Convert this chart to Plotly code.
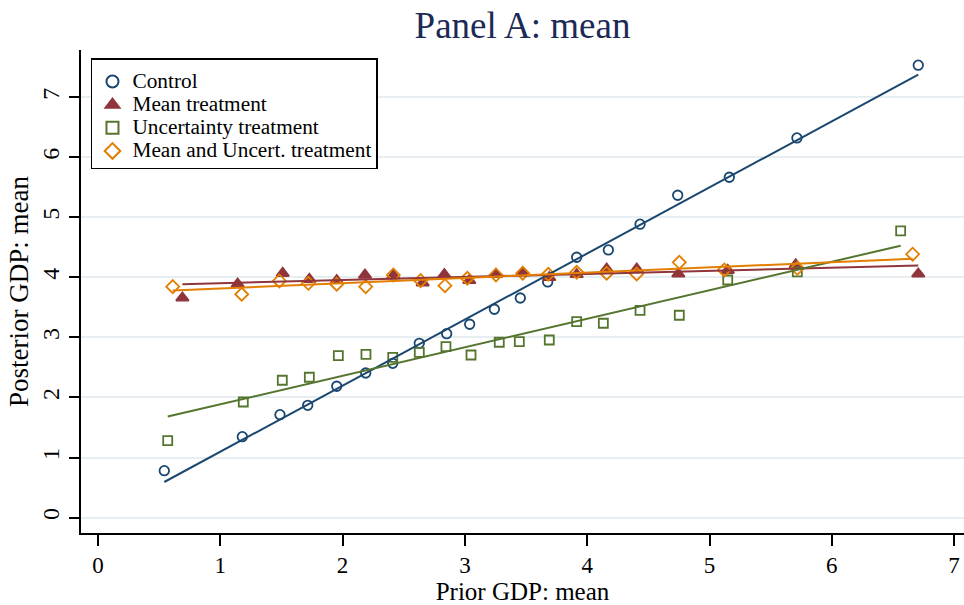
import numpy as np
import plotly.graph_objects as go

# ---- data ----
control_x = [0.542, 1.180, 1.488, 1.715, 1.952, 2.189, 2.410, 2.627, 2.851, 3.039,
             3.241, 3.453, 3.677, 3.914, 4.173, 4.432, 4.740, 5.162, 5.715, 6.707]
control_y = [0.78, 1.347, 1.713, 1.870, 2.187, 2.408, 2.570, 2.903, 3.063, 3.220,
             3.470, 3.658, 3.925, 4.337, 4.458, 4.887, 5.370, 5.670, 6.325, 7.537]

mean_x = [0.690, 1.142, 1.510, 1.728, 1.952, 2.183, 2.415, 2.655, 2.832, 3.036,
          3.254, 3.473, 3.690, 3.914, 4.159, 4.405, 4.745, 5.149, 5.705, 6.707]
mean_y = [3.66, 3.89, 4.07, 3.97, 3.95, 4.04, 4.03, 3.91, 4.05, 3.95,
          4.05, 4.08, 4.00, 4.05, 4.14, 4.14, 4.06, 4.12, 4.21, 4.06]

unc_x = [0.570, 1.188, 1.507, 1.728, 1.965, 2.191, 2.410, 2.627, 2.845, 3.050,
         3.281, 3.445, 3.690, 3.914, 4.132, 4.432, 4.753, 5.149, 5.718, 6.563]
unc_y = [1.280, 1.925, 2.287, 2.337, 2.697, 2.720, 2.670, 2.753, 2.847, 2.708,
         2.920, 2.930, 2.958, 3.263, 3.237, 3.453, 3.370, 3.958, 4.092, 4.775]

both_x = [0.611, 1.175, 1.483, 1.720, 1.952, 2.189, 2.415, 2.638, 2.837, 3.020,
          3.254, 3.473, 3.682, 3.914, 4.159, 4.405, 4.753, 5.121, 5.718, 6.661]
both_y = [3.847, 3.720, 3.942, 3.903, 3.887, 3.847, 4.042, 3.947, 3.863, 3.987,
          4.042, 4.070, 4.053, 4.087, 4.070, 4.058, 4.253, 4.125, 4.153, 4.387]

series_names = ["Control", "Mean treatment", "Uncertainty treatment",
                "Mean and Uncert. treatment"]
series_x = [control_x, mean_x, unc_x, both_x]
series_y = [control_y, mean_y, unc_y, both_y]

x_ticks = [0, 1, 2, 3, 4, 5, 6, 7]
y_ticks = [0, 1, 2, 3, 4, 5, 6, 7]

# ---- styles ----
colors = ["#1a476f", "#90353b", "#55752f", "#e37e00"]
symbols = ["circle-open", "triangle-up", "square-open", "diamond-open"]
sizes = [9.5, 11, 9, 10]

FONT = "Liberation Serif"
LEGEND_TEXT_PX = 21.3

fig = go.Figure()
for name, xs, ys, c, s, sz in zip(series_names, series_x, series_y, colors, symbols, sizes):
    fig.add_trace(go.Scatter(
        x=xs, y=ys, mode="markers",
        name=f'<span style="font-size:{LEGEND_TEXT_PX}px">{name}</span>',
        marker=dict(color=c, symbol=s, size=sz, line=dict(color=c, width=1.8)),
    ))

for name, xs, ys, c in zip(series_names, series_x, series_y, colors):
    xa = np.array(xs)
    ya = np.array(ys)
    b, a = np.polyfit(xa, ya, 1)
    lx = np.array([xa.min(), xa.max()])
    fig.add_trace(go.Scatter(
        x=lx, y=a + b * lx, mode="lines", showlegend=False,
        line=dict(color=c, width=2), hoverinfo="skip",
    ))

fig.update_layout(
    width=964, height=605,
    margin=dict(l=81, r=0, t=50, b=72),
    paper_bgcolor="white", plot_bgcolor="white",
    font=dict(family=FONT, color="black"),
    title=dict(text="Panel A: mean", x=0.5, xanchor="center", xref="paper",
               y=0.958, yanchor="middle", yref="container",
               font=dict(family=FONT, size=37, color="#1c2a56")),
    showlegend=True,
    legend=dict(x=0.0113, y=0.983, xanchor="left", yanchor="top",
                bgcolor="white", bordercolor="black", borderwidth=1.5,
                font=dict(family=FONT, size=15.5, color="black"),
                title=dict(text=" ", font=dict(family=FONT, size=4)),
                itemsizing="constant"),
    xaxis=dict(range=[-0.139, 7.081], tickvals=x_ticks,
               ticktext=[str(v) for v in x_ticks],
               showgrid=False, zeroline=False,
               showline=True, linecolor="black", linewidth=1.5,
               ticks="outside", ticklen=11, tickwidth=1.5, tickcolor="black",
               tickfont=dict(family=FONT, size=23, color="black"),
               title=dict(text="Prior GDP: mean", standoff=7,
                          font=dict(family=FONT, size=25, color="black"))),
    yaxis=dict(range=[-0.258, 7.79], tickvals=y_ticks,
               ticktext=[str(v) for v in y_ticks],
               showgrid=True, gridcolor="#e6eef1", gridwidth=2,
               zeroline=False,
               showline=True, linecolor="black", linewidth=1.5,
               ticks="outside", ticklen=10, tickwidth=1.5, tickcolor="black",
               tickangle=-90, ticklabelstandoff=1,
               tickfont=dict(family=FONT, size=24, color="black"),
               title=dict(text="Posterior GDP: mean", standoff=1,
                          font=dict(family=FONT, size=27, color="black"))),
)

fig.write_html("out.html")
